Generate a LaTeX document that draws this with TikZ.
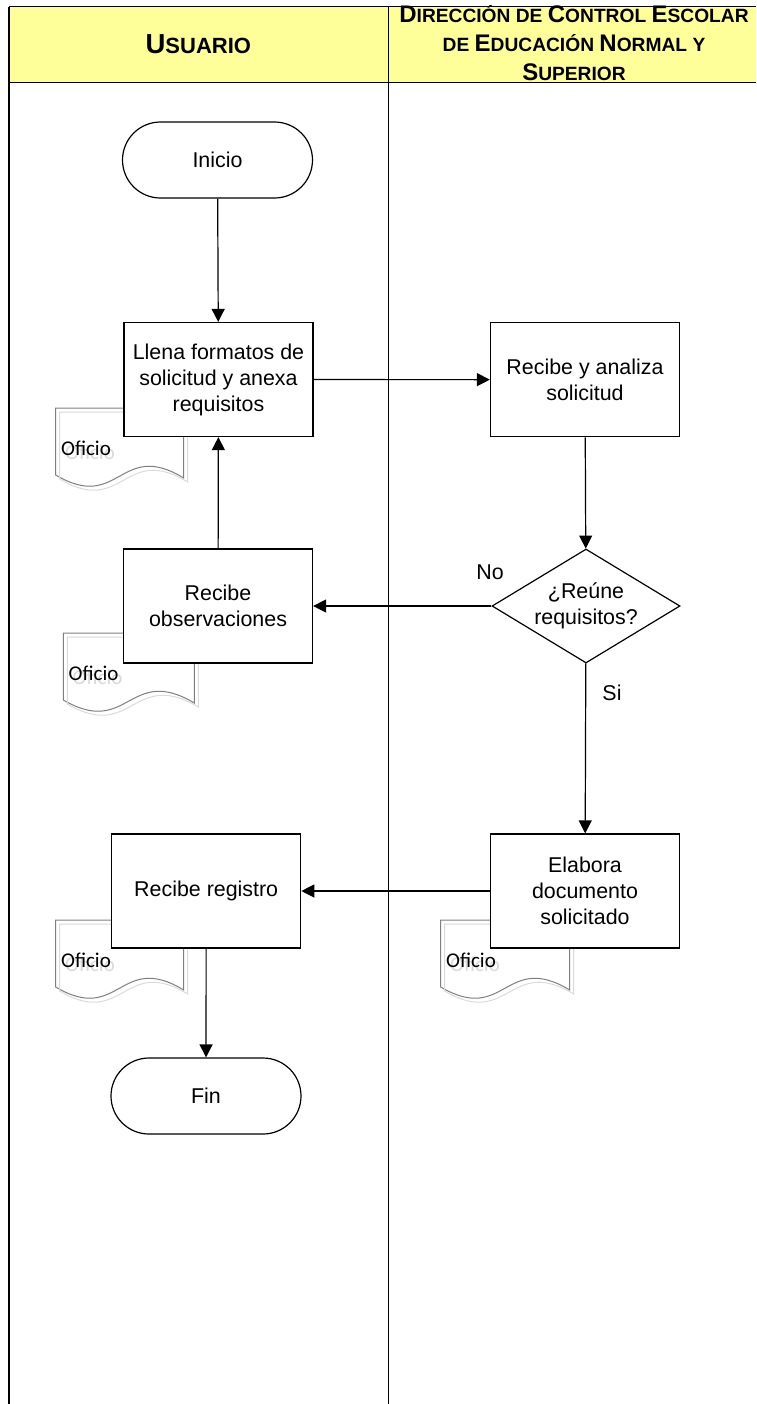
\documentclass[tikz,border=0pt]{standalone}
\usepackage{fontspec}
\setmainfont{Liberation Sans}
\newfontfamily\calfont{Carlito}
\usetikzlibrary{arrows.meta,shapes.geometric}
\definecolor{hdryellow}{HTML}{FFFF99}
\definecolor{docgray}{HTML}{7F7F7F}
\definecolor{shadowgray}{HTML}{DADADA}
\newcommand\Hb[1]{{\fontsize{12}{14.5}\selectfont #1}}
\newcommand\Hs[1]{{\fontsize{9.6}{14.5}\selectfont #1}}
\newcommand\Ub[1]{{\fontsize{13.75}{16}\selectfont #1}}
\newcommand\Us[1]{{\fontsize{11}{16}\selectfont #1}}
\tikzset{
  boxtext/.style={font=\fontsize{10.7}{13}\selectfont},
  box/.style={draw, line width=0.6pt, fill=white, minimum width=94.5pt, minimum height=57pt, align=center, inner sep=2pt, boxtext},
  term/.style={draw, line width=0.6pt, fill=white, minimum width=95pt, minimum height=38pt, rounded corners=19pt, boxtext},
  decision/.style={diamond, draw, line width=0.6pt, fill=white, minimum width=94pt, minimum height=57pt, inner sep=0pt, shape aspect=1.65, align=center, boxtext},
  arr/.style={-{Triangle[width=6.5pt,length=6.5pt]}, line width=0.6pt},
  lane/.style={line width=0.7pt},
  docline/.style={draw=docgray, line width=0.5pt, fill=white},
  docshadow/.style={draw=shadowgray, line width=0.5pt},
  doctext/.style={font=\calfont\fontsize{10.5}{12}\selectfont, anchor=west, inner sep=0pt},
  lbl/.style={boxtext, inner sep=0pt},
  hdr/.style={font=\bfseries\fontsize{12}{14.5}\selectfont, align=center, inner sep=0pt}
}
\newcommand\ofdoc[4]{%
  \begin{scope}[shift={(#2,#3)}]
    \path[docline] (0,67) -- (0,0) -- (#4,0) -- (#4,70) .. controls ({0.5*#4},31) and ({0.5*#4},105) .. (0,67) -- cycle;
    \begin{scope}[shift={(4,4)}]
      \path[docshadow] (0,67) -- (0,0) -- (#4,0) -- (#4,70) .. controls ({0.5*#4},31) and ({0.5*#4},105) .. (0,67) -- cycle;
      \node[doctext, text=shadowgray] (#1s) at (5,40) {Oficio};
    \end{scope}
    \node[doctext] (#1) at (5,40) {Oficio};
  \end{scope}}
\begin{document}
\begin{tikzpicture}[x=0.5pt, y=-0.5pt]
\useasboundingbox (0,0) rectangle (756,1404);
% header and lanes
\fill[hdryellow] (9,6.7) rectangle (756,82.7);
\draw[lane] (9,6.7) -- (756,6.7);
\draw[lane] (9,82.7) -- (756,82.7);
\draw[lane] (9,6.7) -- (9,1404);
\draw[lane] (388.3,6.7) -- (388.3,1404);
\node[hdr] (hdrL) at (198.3,44) {\Ub{U}\Us{SUARIO}};
\node[hdr] (hdrR) at (574,43) {\Hb{D}\Hs{IRECCIÓN DE }\Hb{C}\Hs{ONTROL }\Hb{E}\Hs{SCOLAR}\\
  \Hs{DE }\Hb{E}\Hs{DUCACIÓN }\Hb{N}\Hs{ORMAL Y}\\
  \Hb{S}\Hs{UPERIOR}};
% documents
\ofdoc{doc1}{55.7}{408}{128}
\ofdoc{doc2}{63.3}{633}{131}
\ofdoc{doc3}{55.7}{920}{128}
\ofdoc{doc4}{440.7}{920}{129}
% nodes
\node[term] (inicio) at (217.5,160) {Inicio};
\node[box] (llena) at (218.5,379.5) {Llena formatos de\\solicitud y anexa\\requisitos};
\node[box] (analiza) at (585,379.7) {Recibe y analiza\\solicitud};
\node[decision] (reune) at (586,606) {¿Reúne\\requisitos?};
\node[box] (obs) at (218,606) {Recibe\\observaciones};
\node[box] (elabora) at (585,891) {Elabora\\documento\\solicitado};
\node[box] (registro) at (206.2,891) {Recibe registro};
\node[term] (fin) at (206,1096) {Fin};
\node[lbl] (no) at (490,572) {No};
\node[lbl] (si) at (612,693) {Si};
% connectors
\draw[arr] (inicio) -- (llena);
\draw[arr] (llena) -- (analiza);
\draw[arr] (analiza) -- (reune);
\draw[arr] (reune) -- (obs);
\draw[arr] (obs) -- (llena);
\draw[arr] (reune) -- (elabora);
\draw[arr] (elabora) -- (registro);
\draw[arr] (registro) -- (fin);
\end{tikzpicture}
\end{document}
